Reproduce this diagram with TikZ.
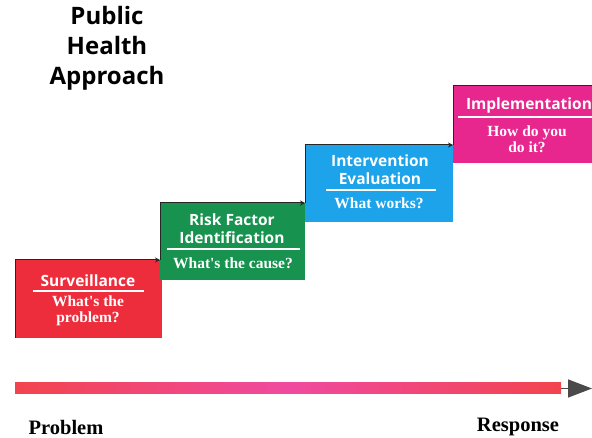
\documentclass[tikz,border=0pt]{standalone}
\usepackage{fontspec}
\setmainfont{Liberation Serif}[Ligatures=TeXOff]
\newfontfamily\titlefont{Open Sans}
\usetikzlibrary{arrows.meta,calc}
\definecolor{cRed}{HTML}{EE2D3C}
\definecolor{cGreen}{HTML}{17924F}
\definecolor{cBlue}{HTML}{1CA3EA}
\definecolor{cPink}{HTML}{E7268E}
\definecolor{cBarPink}{HTML}{F04AA0}
\definecolor{cBarRed}{HTML}{F2444E}
\definecolor{cHead}{HTML}{4A4A4A}
\tikzset{
  ttl/.style={text=white,font=\titlefont\bfseries\fontsize{15.5}{18}\selectfont,align=center,inner sep=0pt},
  sub/.style={text=white,font=\bfseries\fontsize{15.5}{16}\selectfont,align=center,inner sep=0pt},
  sep/.style={white,line width=1.8pt},
  stair/.style={black!85,line width=1pt},
  stairarrow/.style={stair,-{Stealth[length=5pt,width=5pt]}},
  axislbl/.style={font=\bfseries\fontsize{20.5}{22}\selectfont,inner sep=0pt}
}
\begin{document}
\begin{tikzpicture}[x=1pt,y=-1pt]
\useasboundingbox (0,0) rectangle (592,438);
% boxes
\fill[cRed] (15,260) rectangle (162,338);
\coordinate (rsw) at (15,338); \coordinate (rnw) at (15,260);
\fill[cGreen] (160,203) rectangle (305,280);
\coordinate (gnw) at (160,203); \coordinate (gl) at (160,260);
\fill[cBlue] (305,145) rectangle (453,222);
\coordinate (bnw) at (305,145); \coordinate (bl) at (305,203);
\fill[cPink] (453,86) rectangle (592,163);
\coordinate (pnw) at (453,86); \coordinate (pl) at (453,145);
\coordinate (pe) at (592,86);
% staircase connectors
\draw[stair] (rsw) -- (rnw);
\draw[stairarrow] (rnw) -- (gl);
\draw[stair] (gl) -- (gnw);
\draw[stairarrow] (gnw) -- (bl);
\draw[stair] (bl) -- (bnw);
\draw[stairarrow] (bnw) -- (pl);
\draw[stair] (pl) -- (pnw) -- (pe);
% texts red
\node[ttl] (t1) at (88,281) {Surveillance};
\draw[sep] (33,291) -- (144,291);
\node[sub] (s1) at (88,311) {What's the\\problem?};
% green
\node[ttl] (t2) at (232,229) {Risk Factor\\Identification};
\draw[sep] (167,249) -- (300,249);
\node[sub] (s2) at (233,263) {What's the cause?};
% blue
\node[ttl] (t3) at (380,170) {Intervention\\Evaluation};
\draw[sep] (326,190) -- (436,190);
\node[sub] (s3) at (379,203) {What works?};
% pink
\node[ttl] (t4) at (529,105) {Implementation};
\draw[sep] (458,117) -- (592,117);
\node[sub] (s4) at (527,139) {How do you\\do it?};
% title
\node[font=\titlefont\bfseries\fontsize{24}{30}\selectfont,align=center,inner sep=0pt] (title) at (107,48) {Public\\Health\\Approach};
% bottom bar
\shade[left color=cBarRed,right color=cBarRed,middle color=cBarPink] (15,383) rectangle (561,394);
\coordinate (barend) at (561,388.5);
\coordinate (tip) at (592,388.5);
\draw[cHead,line width=1.5pt,-{Triangle[length=24pt,width=18pt]}] (barend) -- (tip);
\node[axislbl] (prob) at (66,427) {Problem};
\node[axislbl] (resp) at (518,427) {Response};
\end{tikzpicture}
\end{document}
